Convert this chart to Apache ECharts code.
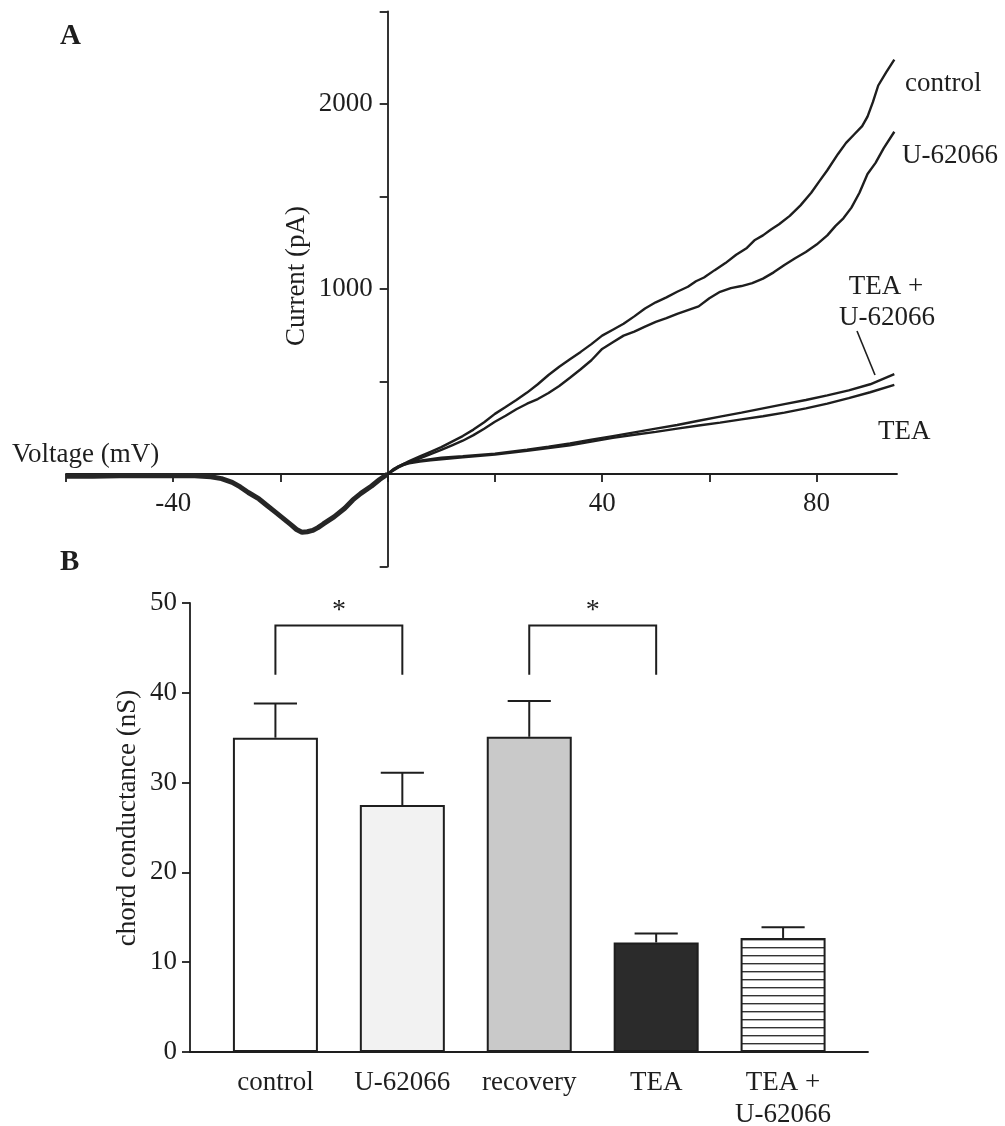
<!DOCTYPE html>
<html>
<head>
<meta charset="utf-8">
<script src="https://cdn.jsdelivr.net/npm/echarts@6/dist/echarts.min.js"></script>
<style>
  html, body { margin: 0; padding: 0; background: #fff; }
  #chart { width: 1005px; height: 1126px; }
</style>
</head>
<body>
<div id="chart"></div>
<script>
// ---- Panel A: whole-cell current-voltage relations (mV, pA) ----
const voltageRange = [-60, 95];
const currentRange = [-500, 2500];
const voltageTicks = [-60, -40, -20, 0, 20, 40, 60, 80];
const voltageLabels = [-40, 40, 80];
const currentTicks = [-500, 0, 500, 1000, 1500, 2000, 2500];
const currentLabels = [1000, 2000];

// inward segment, where all four records coincide
const inwardLeg = [[-60,-12],[-55,-12],[-50,-10],[-45,-10],[-40,-8],[-36,-10],[-33,-15],[-31,-25],
  [-29,-45],[-27.5,-70],[-26,-100],[-24,-135],[-22.5,-170],[-21,-205],[-19.5,-240],[-18,-275],
  [-17,-300],[-16,-315],[-15,-312],[-14,-305],[-13,-290],[-12,-270],[-10,-232],[-8,-185],
  [-6.5,-140],[-5,-105],[-3,-65],[-1.5,-30],[0,0]];

const controlIV = [[0,0],[2,40],[4,70],[6,95],[8,120],[10,145],[12,175],[14,205],[16,240],[18,280],
  [20,325],[22,362],[24,400],[26,440],[28,485],[30,535],[32,580],[34,620],[36,660],[38,702],[40,748],
  [42,780],[44,812],[46,852],[48,895],[50,928],[52,955],[54,985],[56,1012],[57.5,1042],[59,1062],
  [61,1102],[63,1140],[65,1185],[67,1222],[68.5,1265],[70,1290],[71.5,1322],[73,1350],[75,1395],
  [77,1452],[79,1520],[80.5,1582],[82,1642],[84,1730],[85.5,1790],[87,1835],[88.5,1880],[89.5,1932],
  [90.5,2010],[91.5,2100],[93,2172],[94.5,2240]];

const u62066IV = [[0,0],[2,35],[4,62],[6,85],[8,108],[10,130],[12,155],[14,180],[16,210],[18,245],
  [20,282],[22,315],[24,350],[26,380],[28,405],[30,438],[32,476],[34,520],[36,566],[38,615],[40,676],
  [42,712],[44,748],[46,770],[48,797],[50,822],[52,842],[54,866],[56,886],[58,906],[60,950],[62,985],
  [64,1005],[66,1016],[68,1032],[70,1056],[72,1090],[74,1130],[76,1166],[78,1200],[80,1240],[82,1290],
  [83.5,1340],[85,1382],[86.5,1440],[88,1520],[89.5,1622],[91,1682],[92.5,1760],[94.5,1850]];

const teaU62066IV = [[0,0],[1,25],[2,42],[3,55],[4,63],[6,72],[8,80],[10,88],[14,96],[20,110],
  [26,132],[30,148],[34,165],[38,185],[42,205],[46,225],[50,245],[54,265],[58,288],[62,310],
  [66,332],[70,355],[74,378],[78,400],[82,425],[86,452],[90,485],[94.5,540]];

const teaIV = [[0,0],[1,22],[2,38],[3,50],[4,58],[6,67],[8,74],[10,80],[14,90],[20,105],[26,125],
  [30,140],[34,155],[38,175],[42,195],[46,212],[50,228],[54,245],[58,262],[62,278],[66,295],
  [70,312],[74,332],[78,355],[82,380],[86,410],[90,442],[94.5,482]];

// ---- Panel B: chord conductance, mean + SEM (nS) ----
const groups = ['control', 'U-62066', 'recovery', 'TEA', 'TEA +\nU-62066'];
const meanNS = [35.0, 27.5, 35.1, 12.2, 12.7];
const semNS = [3.8, 3.6, 4.0, 1.0, 1.2];
// significance brackets: [group a, group b, bracket top, leg end]
const brackets = [[0, 1, 47.5, 42], [2, 3, 47.5, 42]];

const FONT = "'Liberation Serif', 'Times New Roman', serif";
const INK = '#1e1e1e';

// panel A plot box; both axes cross at the origin
const boxA = { left: 66, right: 108, top: 11.5, bottom: 559.5 };
const W = 1005, H = 1126;
const boxAW = W - boxA.left - boxA.right;
const boxAH = H - boxA.top - boxA.bottom;
const yAxisShift = (0 - voltageRange[0]) / (voltageRange[1] - voltageRange[0]) * boxAW;
const xAxisShift = (0 - currentRange[0]) / (currentRange[1] - currentRange[0]) * boxAH;

// horizontal-stripe fill for the combined treatment bar
function stripePattern() {
  const c = document.createElement('canvas');
  c.width = 8; c.height = 8;
  const g = c.getContext('2d');
  g.fillStyle = '#ffffff';
  g.fillRect(0, 0, 8, 8);
  g.fillStyle = '#333333';
  g.fillRect(0, 3, 8, 1.4);
  return c;
}
const fills = ['#ffffff', '#f2f2f2', '#c9c9c9', '#2b2b2b', { image: stripePattern(), repeat: 'repeat' }];

function curve(name, data) {
  return {
    name, type: 'line', xAxisIndex: 0, yAxisIndex: 0, data,
    showSymbol: false, symbol: 'none', smooth: false,
    lineStyle: { color: INK, width: 2.4 }, silent: true, z: 3
  };
}

const axisLineStyle = { color: INK, width: 1.8 };
const labelFont = { fontSize: 27, fontFamily: FONT, color: INK };

const chart = echarts.init(document.getElementById('chart'), null, { renderer: 'canvas' });

chart.setOption({
  animation: false,
  backgroundColor: '#ffffff',
  textStyle: { fontFamily: FONT, color: INK },
  grid: [
    Object.assign({ containLabel: false, outerBoundsMode: 'none' }, boxA),
    { left: 190, right: 137, top: 603, bottom: 74, containLabel: false, outerBoundsMode: 'none' }
  ],
  xAxis: [
    {
      gridIndex: 0, type: 'value', min: voltageRange[0], max: voltageRange[1],
      position: 'bottom', offset: -xAxisShift,
      axisLine: { onZero: false, lineStyle: axisLineStyle },
      axisTick: { show: true, length: 8, customValues: voltageTicks, lineStyle: axisLineStyle },
      axisLabel: Object.assign({ customValues: voltageLabels, margin: 15, lineHeight: 30,
        formatter: v => String(v) }, labelFont),
      splitLine: { show: false }
    },
    {
      gridIndex: 1, type: 'value', min: -0.673, max: 4.669,
      axisLine: { onZero: false, lineStyle: axisLineStyle },
      axisTick: { show: false },
      axisLabel: Object.assign({ customValues: [0, 1, 2, 3, 4], margin: 15, lineHeight: 32, align: 'center',
        formatter: v => groups[Math.round(v)] }, labelFont),
      splitLine: { show: false }
    }
  ],
  yAxis: [
    {
      gridIndex: 0, type: 'value', min: currentRange[0], max: currentRange[1],
      position: 'left', offset: -yAxisShift,
      axisLine: { show: true, onZero: false, lineStyle: axisLineStyle },
      axisTick: { show: true, length: 8, customValues: currentTicks, lineStyle: axisLineStyle },
      axisLabel: Object.assign({ customValues: currentLabels, margin: 15,
        formatter: v => String(v) }, labelFont),
      splitLine: { show: false }
    },
    {
      gridIndex: 1, type: 'value', min: 0, max: 50, interval: 10,
      axisLine: { show: true, onZero: false, lineStyle: axisLineStyle },
      axisTick: { show: true, length: 8, lineStyle: axisLineStyle },
      axisLabel: Object.assign({ margin: 13 }, labelFont),
      splitLine: { show: false }
    }
  ],
  series: [
    {
      name: 'inward', type: 'line', xAxisIndex: 0, yAxisIndex: 0, data: inwardLeg,
      showSymbol: false, symbol: 'none', lineStyle: { color: '#262626', width: 5 }, silent: true, z: 3
    },
    curve('control', controlIV),
    curve('U-62066', u62066IV),
    curve('TEA + U-62066', teaU62066IV),
    curve('TEA', teaIV),
    {
      name: 'conductance', type: 'bar', xAxisIndex: 1, yAxisIndex: 1,
      barWidth: 85,
      data: meanNS.map((m, i) => ({
        value: [i, m],
        itemStyle: { color: fills[i], borderColor: INK, borderWidth: 2 }
      })),
      silent: true, z: 2
    },
    {
      name: 'sem', type: 'custom', xAxisIndex: 1, yAxisIndex: 1,
      data: meanNS.map((m, i) => [i, m, semNS[i]]),
      renderItem: (params, api) => {
        const x = api.value(0), m = api.value(1), e = api.value(2);
        const base = api.coord([x, m]);
        const tip = api.coord([x, m + e]);
        const capL = api.coord([x - 0.17, m + e]);
        const capR = api.coord([x + 0.17, m + e]);
        const st = { stroke: INK, lineWidth: 2 };
        return {
          type: 'group',
          children: [
            { type: 'line', shape: { x1: base[0], y1: base[1], x2: tip[0], y2: tip[1] }, style: st },
            { type: 'line', shape: { x1: capL[0], y1: capL[1], x2: capR[0], y2: capR[1] }, style: st }
          ]
        };
      },
      silent: true, z: 4
    },
    {
      name: 'significance', type: 'custom', xAxisIndex: 1, yAxisIndex: 1,
      data: brackets,
      renderItem: (params, api) => {
        const a = api.value(0), b = api.value(1), top = api.value(2), leg = api.value(3);
        const p1 = api.coord([a, leg]), p2 = api.coord([a, top]);
        const p3 = api.coord([b, top]), p4 = api.coord([b, leg]);
        const mid = api.coord([(a + b) / 2, top]);
        return {
          type: 'group',
          children: [
            { type: 'polyline', shape: { points: [p1, p2, p3, p4] }, style: { stroke: INK, lineWidth: 2, fill: null } },
            { type: 'text', x: mid[0], y: mid[1] - 1,
              style: { text: '*', fontSize: 28, fontFamily: FONT, fill: INK, align: 'center', verticalAlign: 'bottom' } }
          ]
        };
      },
      silent: true, z: 4
    }
  ],
  graphic: [
    { type: 'text', left: 60, top: 22, style: { text: 'A', fontSize: 29, fontWeight: 'bold', fontFamily: FONT, fill: INK } },
    { type: 'text', left: 60, top: 548, style: { text: 'B', fontSize: 29, fontWeight: 'bold', fontFamily: FONT, fill: INK } },
    { type: 'text', x: 12, y: 455, style: { text: 'Voltage (mV)', fontSize: 27, fontFamily: FONT, fill: INK, align: 'left', verticalAlign: 'middle' } },
    { type: 'text', x: 297, y: 276, rotation: Math.PI / 2,
      style: { text: 'Current (pA)', fontSize: 27, fontFamily: FONT, fill: INK, align: 'center', verticalAlign: 'middle' } },
    { type: 'text', x: 128, y: 818, rotation: Math.PI / 2,
      style: { text: 'chord conductance (nS)', fontSize: 27, fontFamily: FONT, fill: INK, align: 'center', verticalAlign: 'middle' } },
    { type: 'text', x: 905, y: 84, style: { text: 'control', fontSize: 27, fontFamily: FONT, fill: INK, align: 'left', verticalAlign: 'middle' } },
    { type: 'text', x: 902, y: 156, style: { text: 'U-62066', fontSize: 27, fontFamily: FONT, fill: INK, align: 'left', verticalAlign: 'middle' } },
    { type: 'text', x: 886, y: 287, style: { text: 'TEA +', fontSize: 27, fontFamily: FONT, fill: INK, align: 'center', verticalAlign: 'middle' } },
    { type: 'text', x: 887, y: 318, style: { text: 'U-62066', fontSize: 27, fontFamily: FONT, fill: INK, align: 'center', verticalAlign: 'middle' } },
    { type: 'line', shape: { x1: 857, y1: 331, x2: 875, y2: 375 }, style: { stroke: INK, lineWidth: 1.6 } },
    { type: 'text', x: 878, y: 432, style: { text: 'TEA', fontSize: 27, fontFamily: FONT, fill: INK, align: 'left', verticalAlign: 'middle' } }
  ]
});
</script>
</body>
</html>
